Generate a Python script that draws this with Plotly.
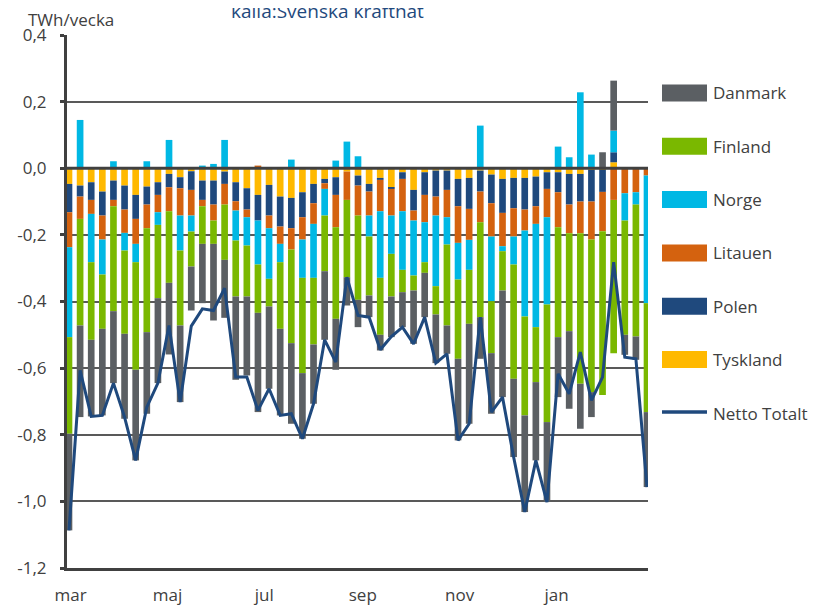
import plotly.graph_objects as go
import pandas as pd

# ---------------- data (TWh per week) ----------------
weeks = pd.date_range("2021-02-28", periods=53, freq="7D")

tyskland = [-0.047, -0.052, -0.042, -0.070, -0.037, -0.052, -0.080, -0.055, -0.042, -0.017,
            -0.027, -0.009, -0.037, -0.037, -0.010, -0.042, -0.060, -0.080, -0.050, -0.085,
            -0.089, -0.072, -0.047, -0.032, -0.027, -0.010, -0.022, -0.047, -0.029, -0.057,
            -0.012, -0.065, -0.012, -0.007, -0.007, -0.032, -0.029, -0.007, -0.019, -0.032,
            -0.029, -0.029, -0.025, -0.012, -0.012, -0.017, -0.017, -0.005, -0.004, 0.018,
            0.0, 0.0, 0.0]
polen = [-0.085, -0.033, -0.053, -0.072, -0.058, -0.072, -0.072, -0.054, -0.038, -0.040,
         -0.033, -0.056, -0.058, -0.072, -0.037, -0.057, -0.064, -0.077, -0.092, -0.090,
         -0.091, -0.075, -0.058, -0.013, -0.053, 0.0, -0.030, -0.023, -0.006, -0.005,
         -0.020, -0.062, -0.068, -0.078, -0.058, -0.082, -0.093, -0.063, -0.086, -0.102,
         -0.091, -0.095, -0.089, -0.050, -0.060, -0.092, -0.083, -0.095, -0.067, 0.030,
         0.0, 0.0, 0.0]
litauen = [-0.105, -0.067, -0.042, -0.072, -0.019, -0.070, -0.075, -0.071, -0.052, -0.072,
           -0.082, -0.077, -0.019, -0.048, -0.062, -0.028, -0.023, 0.008, -0.038, -0.052,
           -0.064, -0.067, -0.062, -0.017, -0.097, -0.085, -0.090, -0.072, -0.094, -0.080,
           -0.097, -0.030, -0.082, -0.057, -0.082, -0.110, -0.093, -0.092, -0.100, -0.100,
           -0.085, -0.063, -0.053, -0.085, -0.105, -0.086, -0.095, -0.114, -0.118, -0.095,
           -0.075, -0.072, -0.022]
norge = [-0.270, 0.145, -0.145, -0.105, 0.021, -0.053, -0.055, 0.021, -0.038, 0.085,
         -0.105, -0.048, 0.008, 0.013, 0.085, -0.090, -0.085, -0.132, -0.152, -0.055,
         0.026, -0.115, -0.162, -0.080, 0.023, 0.080, 0.036, -0.063, -0.200, -0.115,
         -0.176, -0.165, -0.120, -0.212, -0.082, -0.110, -0.090, 0.128, -0.194, -0.015,
         -0.084, -0.258, -0.310, -0.262, 0.065, 0.033, 0.228, 0.041, 0.0, 0.065,
         -0.082, -0.037, -0.383]
finland = [-0.290, -0.320, -0.233, -0.163, -0.315, -0.250, -0.323, -0.312, -0.220, -0.215,
           -0.225, -0.105, -0.113, -0.070, -0.166, -0.168, -0.153, -0.145, -0.083, -0.200,
           -0.281, -0.286, -0.200, -0.167, -0.275, -0.232, -0.253, -0.177, -0.171, -0.128,
           -0.067, -0.045, -0.032, -0.085, -0.243, -0.238, -0.162, -0.285, -0.156, -0.118,
           -0.343, -0.297, -0.165, -0.353, -0.330, -0.294, -0.452, -0.458, -0.492, -0.460,
           -0.343, -0.396, -0.327]
danmark = [-0.290, -0.275, -0.230, -0.260, -0.216, -0.255, -0.272, -0.245, -0.255, -0.215,
           -0.230, -0.132, -0.178, -0.230, -0.174, -0.250, -0.237, -0.298, -0.247, -0.260,
           -0.242, -0.197, -0.178, -0.206, -0.153, -0.085, -0.082, -0.065, -0.047, -0.122,
           -0.105, -0.160, -0.133, -0.146, -0.085, -0.245, -0.300, -0.125, -0.182, -0.320,
           -0.235, -0.290, -0.235, -0.240, -0.180, -0.233, -0.135, -0.075, 0.048, 0.150,
           -0.060, -0.070, -0.225]
netto_totalt = [-1.087, -0.607, -0.745, -0.742, -0.645, -0.747, -0.877, -0.717, -0.645, -0.472,
                -0.702, -0.474, -0.422, -0.427, -0.360, -0.627, -0.627, -0.727, -0.662, -0.742,
                -0.737, -0.812, -0.707, -0.515, -0.582, -0.327, -0.442, -0.447, -0.545, -0.505,
                -0.477, -0.527, -0.447, -0.585, -0.557, -0.817, -0.767, -0.447, -0.732, -0.687,
                -0.867, -1.032, -0.877, -1.002, -0.617, -0.677, -0.552, -0.697, -0.627, -0.282,
                -0.567, -0.572, -0.957]

month_ticks = ["2021-03-01", "2021-05-01", "2021-07-01", "2021-09-01", "2021-11-01", "2022-01-01"]
month_labels = ["mar", "maj", "jul", "sep", "nov", "jan"]
y_ticks = [0.4, 0.2, 0.0, -0.2, -0.4, -0.6, -0.8, -1.0, -1.2]
y_tick_labels = ["0,4", "0,2", "0,0", "-0,2", "-0,4", "-0,6", "-0,8", "-1,0", "-1,2"]

series = [
    ("Tyskland", tyskland, "#FFB900"),
    ("Polen", polen, "#1F497D"),
    ("Litauen", litauen, "#D4620F"),
    ("Norge", norge, "#00B8E4"),
    ("Finland", finland, "#7AB800"),
    ("Danmark", danmark, "#5B5F63"),
]
line_color = "#1F497D"
text_color = "#404040"
FONT = "Open Sans"

fig = go.Figure()
for name, vals, col in series:
    fig.add_trace(go.Bar(x=weeks, y=vals, name=name, marker_color=col,
                         marker_line_width=0, showlegend=False))
fig.add_trace(go.Scatter(x=weeks, y=netto_totalt, name="Netto Totalt", mode="lines",
                         line=dict(color=line_color, width=3), showlegend=False))

# page geometry: the browser body adds an 8px margin around the figure div
OFF = 8
PAGE_W, PAGE_H = 817, 613
W, H = PAGE_W - 2 * OFF, PAGE_H - 2 * OFF
# plot area in page pixels
L, R, T, B = 67, 648, 35, 568


def px_x(p):
    return (p - L) / (R - L)


def px_y(p):
    return (B - p) / (B - T)


shapes = [dict(type="line", xref="paper", yref="y", x0=0, x1=1, y0=0, y1=0,
               line=dict(color=text_color, width=3), layer="above")]
annotations = [
    dict(text="TWh/vecka", xref="paper", yref="paper", x=px_x(26), y=px_y(19),
         xanchor="left", yanchor="middle", showarrow=False,
         font=dict(family=FONT, size=17, color=text_color)),
    dict(text="källa:Svenska kraftnät", xref="paper", yref="paper", x=px_x(229), y=px_y(11),
         xanchor="left", yanchor="middle", showarrow=False,
         font=dict(family=FONT, size=19, color="#1F497D")),
]

legend_items = [("Danmark", "#5B5F63"), ("Finland", "#7AB800"), ("Norge", "#00B8E4"),
                ("Litauen", "#D4620F"), ("Polen", "#1F497D"), ("Tyskland", "#FFB900")]
cy = 93
for name, col in legend_items:
    shapes.append(dict(type="rect", xref="paper", yref="paper",
                       x0=px_x(662), x1=px_x(707), y0=px_y(cy + 8.5), y1=px_y(cy - 8.5),
                       fillcolor=col, line=dict(width=0), layer="above"))
    annotations.append(dict(text=name, xref="paper", yref="paper", x=px_x(711), y=px_y(cy),
                            xanchor="left", yanchor="middle", showarrow=False,
                            font=dict(family=FONT, size=17, color=text_color)))
    cy += 53.3
shapes.append(dict(type="line", xref="paper", yref="paper", x0=px_x(662), x1=px_x(707),
                   y0=px_y(412), y1=px_y(412), line=dict(color=line_color, width=3.5)))
annotations.append(dict(text="Netto Totalt", xref="paper", yref="paper", x=px_x(711), y=px_y(413),
                        xanchor="left", yanchor="middle", showarrow=False,
                        font=dict(family=FONT, size=17, color=text_color)))

fig.update_layout(
    width=W, height=H,
    margin=dict(l=L - OFF, r=W - (R - OFF), t=T - OFF, b=H - (B - OFF), autoexpand=False),
    barmode="relative", bargap=0.4,
    plot_bgcolor="white", paper_bgcolor="white",
    font=dict(family=FONT, size=17, color=text_color),
    shapes=shapes, annotations=annotations,
    showlegend=False,
)
fig.update_xaxes(
    type="date",
    range=[weeks[0] - pd.Timedelta(hours=30), weeks[-1] + pd.Timedelta(hours=15)],
    tickvals=month_ticks, ticktext=month_labels,
    showgrid=False, zeroline=False, ticks="",
    showline=True, linecolor=text_color, linewidth=3,
    ticklabelstandoff=10,
)
fig.update_yaxes(
    range=[-1.2, 0.4], tickvals=y_ticks, ticktext=y_tick_labels,
    showgrid=True, gridcolor="#595959", gridwidth=2, zeroline=False,
    showline=True, linecolor=text_color, linewidth=3,
    ticks="outside", ticklen=4, tickwidth=3, tickcolor=text_color,
    ticklabelstandoff=10,
)

fig.write_html("out.html")
